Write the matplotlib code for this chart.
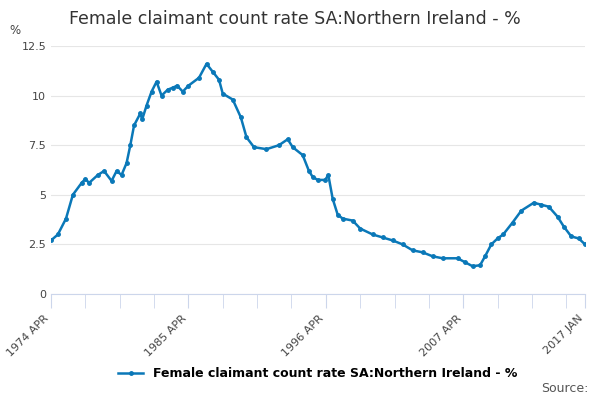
import matplotlib
matplotlib.use("Agg")
import matplotlib.pyplot as plt
import numpy as np

# year (decimal) and rate (%)
years = [1974.25, 1974.8, 1975.45, 1976.0, 1976.7, 1977.0, 1977.3, 1978.0, 1978.5, 1979.1,
         1979.5, 1979.9, 1980.3, 1980.6, 1980.9, 1981.4, 1981.55, 1981.9, 1982.3, 1982.7,
         1983.1, 1983.6, 1984.0, 1984.35, 1984.8, 1985.25, 1986.1, 1986.7, 1987.2, 1987.7,
         1988.0, 1988.8, 1989.45, 1989.9, 1990.5, 1991.5, 1992.5, 1993.2, 1993.6, 1994.4,
         1994.9, 1995.2, 1995.6, 1996.2, 1996.45, 1996.8, 1997.2, 1997.6, 1998.4, 1999.0,
         2000.0, 2000.8, 2001.6, 2002.4, 2003.2, 2004.0, 2004.8, 2005.6, 2006.8, 2007.4,
         2008.0, 2008.6, 2009.0, 2009.5, 2010.0, 2010.45, 2011.2, 2011.9, 2012.9, 2013.5,
         2014.1, 2014.8, 2015.3, 2015.9, 2016.5, 2017.0]
rate = [2.7, 3.0, 3.8, 5.0, 5.6, 5.8, 5.6, 6.0, 6.2, 5.7,
        6.2, 6.0, 6.6, 7.5, 8.5, 9.1, 8.8, 9.5, 10.2, 10.7,
        10.0, 10.3, 10.4, 10.5, 10.2, 10.5, 10.9, 11.6, 11.2, 10.8,
        10.1, 9.8, 8.9, 7.9, 7.4, 7.3, 7.5, 7.8, 7.4, 7.0,
        6.2, 5.9, 5.75, 5.75, 6.0, 4.8, 4.0, 3.8, 3.7, 3.3,
        3.0, 2.85, 2.7, 2.5, 2.2, 2.1, 1.9, 1.8, 1.8, 1.6,
        1.4, 1.45, 1.9, 2.5, 2.8, 3.0, 3.6, 4.2, 4.6, 4.5,
        4.4, 3.9, 3.4, 2.9, 2.8, 2.5]
tick_pos = [1974.25, 1985.25, 1996.25, 2007.25, 2017.0]
tick_labels = ["1974 APR", "1985 APR", "1996 APR", "2007 APR", "2017 JAN"]
series_name = "Female claimant count rate SA:Northern Ireland - %"

color = "#0a78b8"
fig = plt.figure(figsize=(6, 4), dpi=100)
ax = fig.add_axes([0.085, 0.265, 0.89, 0.62])
ax.plot(years, rate, color=color, lw=1.8, marker="o", ms=2.5, label=series_name)

ax.set_xlim(1974.25, 2017.0)
ax.set_ylim(0, 12.5)
ax.set_yticks([0, 2.5, 5, 7.5, 10, 12.5])
ax.set_yticklabels(["0", "2.5", "5", "7.5", "10", "12.5"], fontsize=8, color="#444444")
ax.set_xticks(tick_pos)
ax.set_xticklabels(tick_labels, rotation=45, ha="right", fontsize=8, color="#444444")
ax.set_xticks(np.arange(1974.25, 2017.0, 2.75), minor=True)
ax.tick_params(axis="x", which="both", length=10, color="#ccd6eb")
ax.tick_params(axis="y", length=0)
ax.grid(axis="y", color="#e6e6e6", lw=0.8)
for s in ["top", "right", "left"]:
    ax.spines[s].set_visible(False)
ax.spines["bottom"].set_color("#ccd6eb")

fig.text(0.115, 0.94, "Female claimant count rate SA:Northern Ireland - %", fontsize=12.5, color="#333333")
fig.text(0.015, 0.915, "%", fontsize=8.5, color="#444444")
ax.legend(loc="upper center", bbox_to_anchor=(0.5, -0.25), frameon=False,
          prop={"size": 9, "weight": "bold"}, handlelength=2)
fig.text(0.98, 0.02, "Source:", ha="right", fontsize=9, color="#555555")
fig.savefig("out.png")
